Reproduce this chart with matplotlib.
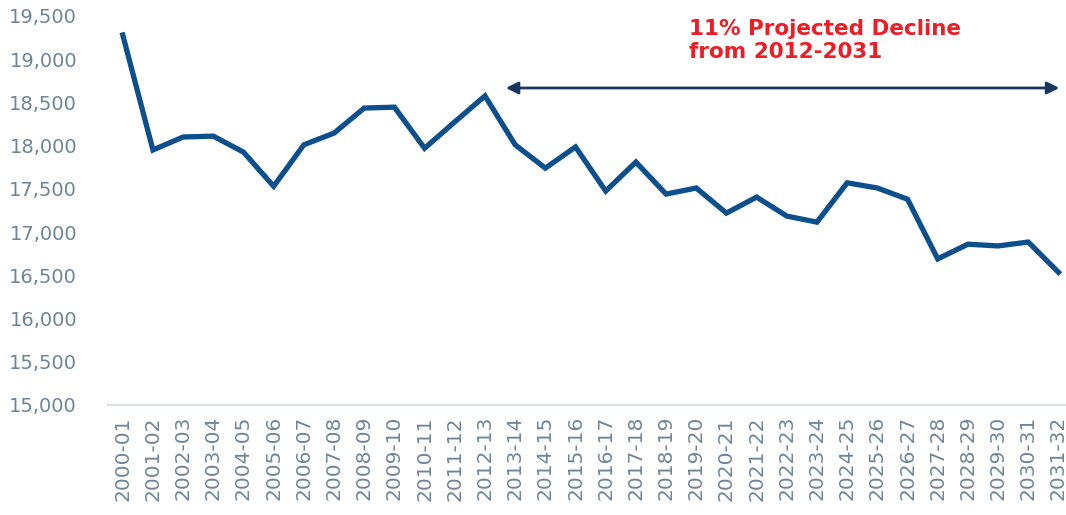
import matplotlib.pyplot as plt
from matplotlib.ticker import FuncFormatter

# Dados
anos = ['2000-01', '2001-02', '2002-03', '2003-04', '2004-05', '2005-06', '2006-07', '2007-08',
        '2008-09', '2009-10', '2010-11', '2011-12', '2012-13', '2013-14', '2014-15', '2015-16',
        '2016-17', '2017-18', '2018-19', '2019-20', '2020-21', '2021-22', '2022-23', '2023-24',
        '2024-25', '2025-26', '2026-27', '2027-28', '2028-29', '2029-30', '2030-31', '2031-32']
valores = [19280, 17950, 18100, 18110, 17925, 17530, 18010, 18145,
           18435, 18445, 17970, 18275, 18575, 18010, 17740, 17985,
           17475, 17810, 17440, 17510, 17220, 17405, 17185, 17115,
           17570, 17510, 17380, 16690, 16860, 16840, 16885, 16535]
seta_inicio = 12.6
seta_fim = 31.12
seta_nivel = 18667
texto = "11% Projected Decline\nfrom 2012-2031"

cor_linha = '#0b4f8c'
cor_tick = '#6e8599'

fig = plt.figure(figsize=(10.66, 5.15), dpi=100)
ax = fig.add_axes([0.101, 0.2136, 0.899, 0.7554])

x = list(range(len(anos)))
ax.plot(x, valores, color=cor_linha, linewidth=3.8, solid_joinstyle='miter')

ax.set_xlim(-0.5, 31.25)
ax.set_ylim(15000, 19500)
ax.set_yticks(range(15000, 20000, 500))
ax.yaxis.set_major_formatter(FuncFormatter(lambda v, p: f'{int(v):,}'))
ax.set_xticks(x)
ax.set_xticklabels(anos, rotation=90)

for s in ['top', 'right', 'left']:
    ax.spines[s].set_visible(False)
ax.spines['bottom'].set_color('#d9dee3')
ax.spines['bottom'].set_linewidth(1.5)
ax.tick_params(axis='both', length=0, colors=cor_tick, labelsize=14)
ax.tick_params(axis='x', labelsize=14.5, pad=8)
ax.tick_params(axis='y', pad=22)

# Seta do período projetado
ax.annotate('', xy=(seta_fim, seta_nivel), xytext=(seta_inicio, seta_nivel),
            arrowprops=dict(arrowstyle='<|-|>', color='#17375e', lw=2, mutation_scale=18),
            annotation_clip=False)
ax.text(18.75, 19460, texto, color='#ee1c25', fontsize=15.5, fontweight='bold',
        ha='left', va='top', linespacing=1.15)

plt.savefig('out.png', dpi=100)
